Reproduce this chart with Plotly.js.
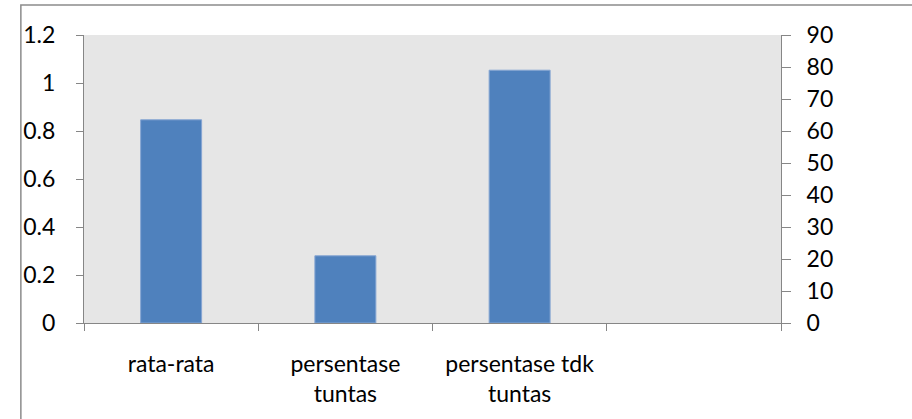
<!DOCTYPE html>
<html>
<head>
<meta charset="utf-8">
<script src="https://cdn.plot.ly/plotly-3.0.1.min.js"></script>
<style>
  html, body { margin: 0; padding: 0; background: #ffffff; }
  #chart { width: 912px; height: 419px; }
</style>
</head>
<body>
<div id="chart"></div>
<script>
// Category slots along the bottom axis (the fourth slot is left empty)
var categories = ['rata-rata', 'persentase<br>tuntas', 'persentase tdk<br>tuntas', ' '];
// Values plotted against the right-hand axis (0–90)
var values = [63.5, 21, 79, null];
// Left-hand axis tick values (0–1.2)
var leftTicks = [0, 0.2, 0.4, 0.6, 0.8, 1, 1.2];
var leftTickText = ['0', '0.2', '0.4', '0.6', '0.8', '1', '1.2'];
// Right-hand axis tick values
var rightTicks = [0, 10, 20, 30, 40, 50, 60, 70, 80, 90];

var axisGrey = '#868686';
var fontFamily = 'Lato, "Open Sans", sans-serif';

var traces = [
  {
    // keeps the primary (left) axis attached to the subplot
    type: 'scatter',
    mode: 'markers',
    x: [],
    y: [],
    xaxis: 'x',
    yaxis: 'y',
    hoverinfo: 'skip',
    showlegend: false
  },
  {
    type: 'bar',
    x: categories,
    y: values,
    xaxis: 'x',
    yaxis: 'y2',
    marker: { color: '#4F81BD', line: { color: '#86A6D3', width: 1 } },
    showlegend: false
  }
];

var layout = {
  width: 912,
  height: 419,
  margin: { l: 84, r: 131, t: 35, b: 96 },
  paper_bgcolor: '#ffffff',
  plot_bgcolor: '#E6E6E6',
  font: { family: fontFamily, size: 23, color: '#000000' },
  bargap: 0.65,
  showlegend: false,
  xaxis: {
    type: 'category',
    categoryorder: 'array',
    categoryarray: categories,
    range: [-0.5, 3.5],
    showline: true,
    linecolor: axisGrey,
    linewidth: 1,
    ticks: 'outside',
    tickson: 'boundaries',
    ticklen: 7,
    tickcolor: axisGrey,
    tickwidth: 1,
    showgrid: false,
    zeroline: false,
    tickfont: { family: fontFamily, size: 23, color: '#000000' },
    ticklabelstandoff: 20
  },
  yaxis: {
    range: [0, 1.2],
    tickvals: leftTicks,
    ticktext: leftTickText,
    showline: true,
    linecolor: axisGrey,
    linewidth: 1,
    ticks: 'outside',
    ticklen: 7,
    tickcolor: axisGrey,
    tickwidth: 1,
    showgrid: false,
    zeroline: false,
    tickfont: { family: fontFamily, size: 23, color: '#000000' },
    ticklabelstandoff: 16
  },
  yaxis2: {
    overlaying: 'y',
    side: 'right',
    range: [0, 90],
    tickvals: rightTicks,
    showline: true,
    linecolor: axisGrey,
    linewidth: 1,
    ticks: 'outside',
    ticklen: 9,
    tickcolor: axisGrey,
    tickwidth: 1,
    showgrid: false,
    zeroline: false,
    tickfont: { family: fontFamily, size: 23, color: '#000000' },
    ticklabelstandoff: 11
  },
  shapes: [
    {
      // chart-area frame
      type: 'rect',
      xref: 'paper', yref: 'paper',
      x0: -75 / 828, x1: 1.2,
      y0: -0.4, y1: 1 + 30 / 288,
      line: { color: '#8C8C8C', width: 1.5 },
      fillcolor: 'rgba(0,0,0,0)',
      layer: 'below'
    }
  ]
};

Plotly.newPlot('chart', traces, layout, { displayModeBar: false, staticPlot: true });
</script>
</body>
</html>
